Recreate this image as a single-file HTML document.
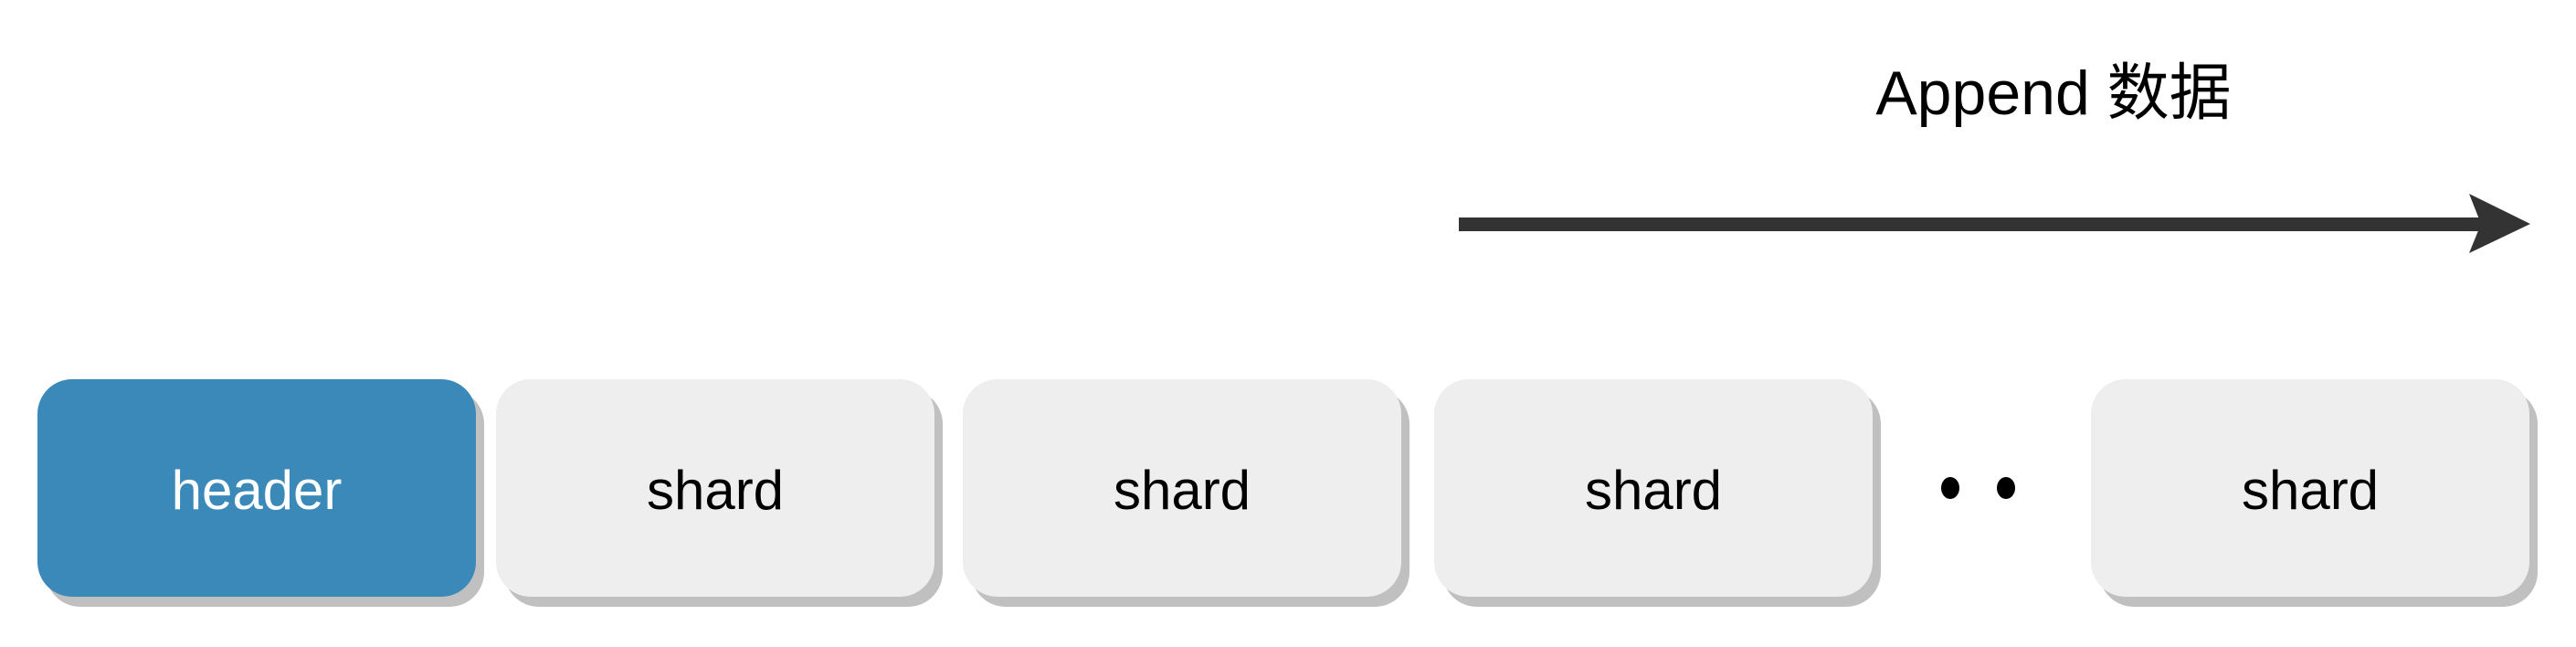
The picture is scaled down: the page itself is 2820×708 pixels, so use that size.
<!DOCTYPE html>
<html><head><meta charset="utf-8"><style>
body{margin:0;width:2820px;height:708px;background:#fff;overflow:hidden;position:relative;font-family:"Liberation Sans","Noto Sans CJK SC",sans-serif}
.b{position:absolute;top:415px;width:480px;height:238px;border-radius:38px;background:#eeeeee;box-shadow:9px 11px 0 #c0c0c0;display:flex;align-items:center;justify-content:center;font-size:60px;color:#000;padding-top:4px;box-sizing:border-box}
.h{background:#3a89b8;color:#fff}
.d{position:absolute;width:20px;height:24px;border-radius:50%;background:#000;top:522px}
</style></head><body>
<div style="position:absolute;left:2023px;top:46px;width:450px;text-align:center;font-size:68px;color:#000">Append 数据</div>
<svg style="position:absolute;left:0;top:0" width="2820" height="708">
<rect x="1597" y="238" width="1125" height="15" fill="#333"/>
<polygon points="2703,212 2770,245 2703,277 2716,245" fill="#333"/>
</svg>
<div class="b h" style="left:41px">header</div>
<div class="b" style="left:543px">shard</div>
<div class="b" style="left:1054px">shard</div>
<div class="b" style="left:1570px">shard</div>
<div class="b" style="left:2289px">shard</div>
<div class="d" style="left:2125px"></div>
<div class="d" style="left:2186px"></div>
</body></html>
